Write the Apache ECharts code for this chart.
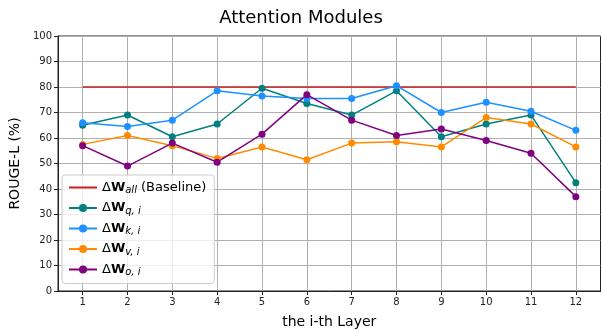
<!DOCTYPE html>
<html><head><meta charset="utf-8">
<script src="https://cdn.jsdelivr.net/npm/echarts@6/dist/echarts.min.js"></script>
<style>html,body{margin:0;padding:0;background:#fff}#c{width:602px;height:334px}</style>
</head><body><div id="c"></div>
<script>
const layers = [1,2,3,4,5,6,7,8,9,10,11,12];
const baseline = [80,80,80,80,80,80,80,80,80,80,80,80];
const wq = [65,69,60.5,65.5,79.5,73.5,69,78.5,60.5,65.5,69,42.5];
const wk = [66,64.5,67,78.5,76.5,75.5,75.5,80.5,70,74,70.5,63];
const wv = [57.5,61,57,52,56.5,51.5,58,58.5,56.5,68,65.5,56.5];
const wo = [57,49,58,50.5,61.5,77,67,61,63.5,59,54,37];
const yTicks = [0,10,20,30,40,50,60,70,80,90,100];

const pairs = a => layers.map((x,i)=>[x,a[i]]);
const FONT = 'DejaVu Sans';
const rich = {
  d:{fontFamily:FONT,fontSize:13,color:'#000',height:14},
  w:{fontFamily:FONT,fontSize:13,fontWeight:'bold',color:'#000',height:14},
  s:{fontFamily:FONT,fontSize:10,fontStyle:'italic',color:'#000',verticalAlign:'bottom',padding:[6,0,0,0]},
  t:{fontFamily:FONT,fontSize:13,color:'#000',height:14}
};
const names = {
  base:'{d|Δ}{w|W}{s|all}{t| (Baseline)}',
  q:'{d|Δ}{w|W}{s|q, i}',
  k:'{d|Δ}{w|W}{s|k, i}',
  v:'{d|Δ}{w|W}{s|v, i}',
  o:'{d|Δ}{w|W}{s|o, i}'
};
function ser(id, data, color, sym){
  return {name:id,type:'line',data:pairs(data),color:color,
    lineStyle:{width:1.5,color:color},itemStyle:{color:color},
    symbol:sym?'circle':'none',symbolSize:7,showSymbol:sym,animation:false,z:sym?3:2};
}
const chart = echarts.init(document.getElementById('c'),null,{renderer:'canvas'});
chart.setOption({
  animation:false,
  title:{text:'Attention Modules',left:'center',top:4,textStyle:{fontFamily:FONT,fontSize:18,fontWeight:'normal',color:'#000'}},
  grid:{left:55,right:1.5,top:36,bottom:40,containLabel:false,show:true,borderColor:'#222',borderWidth:1,backgroundColor:'transparent'},
  legend:{orient:'vertical',left:62,top:175,itemGap:6,itemWidth:28,itemHeight:10,
    backgroundColor:'rgba(255,255,255,0.8)',borderColor:'#cccccc',borderWidth:1,borderRadius:3,padding:[6,8,6,6],
    data:[{name:'base',itemStyle:{opacity:0}},'q','k','v','o'],
    formatter:n=>names[n],textStyle:{rich:rich}},
  xAxis:{type:'value',min:0.45,max:12.55,
    name:'the i-th Layer',nameLocation:'middle',nameGap:24,nameTextStyle:{fontFamily:FONT,fontSize:14,color:'#000'},
    axisLine:{onZero:false,lineStyle:{color:'#222',width:1}},
    axisTick:{customValues:layers,length:4,lineStyle:{color:'#222'}},
    axisLabel:{customValues:layers,fontFamily:FONT,fontSize:10,color:'#222',margin:6},
    splitLine:{show:true,customValues:layers,lineStyle:{color:'#b0b0b0',width:1}}},
  yAxis:{type:'value',min:0,max:100,interval:10,
    name:'ROUGE-L (%)',nameLocation:'middle',nameGap:36,nameRotate:90,nameTextStyle:{fontFamily:FONT,fontSize:14,color:'#000'},
    axisLine:{show:true,lineStyle:{color:'#222',width:1}},
    axisTick:{show:true,length:4,lineStyle:{color:'#222'}},
    axisLabel:{fontFamily:FONT,fontSize:10,color:'#222',margin:6},
    splitLine:{show:true,lineStyle:{color:'#b0b0b0',width:1}}},
  series:[
    ser('base',baseline,'#c21f1f',false),
    ser('q',wq,'#008080',true),
    ser('k',wk,'#1e90ff',true),
    ser('v',wv,'#ff8c00',true),
    ser('o',wo,'#800080',true)
  ]
});
</script></body></html>
